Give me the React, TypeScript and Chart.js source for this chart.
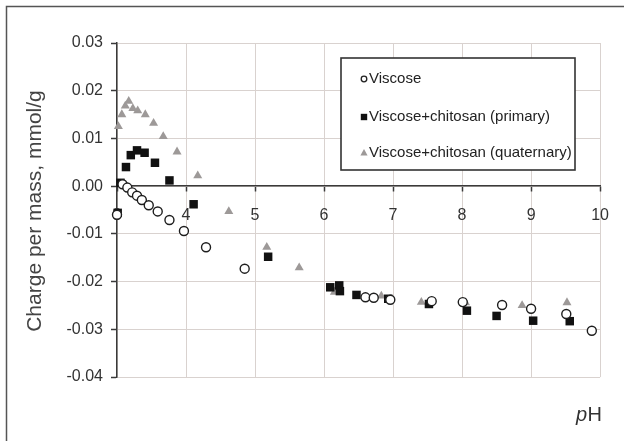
import React, { useEffect, useRef } from "react";
import { Chart, registerables } from "chart.js";

Chart.register(...registerables);

// Measured surface charge vs. pH for the three fibre samples
const viscosePH = [3.0, 3.08, 3.15, 3.22, 3.29, 3.36, 3.46, 3.59, 3.76, 3.97, 4.29, 4.85, 6.6, 6.72, 6.96, 7.56, 8.01, 8.58, 9.0, 9.51, 9.88];
const viscoseCharge = [-0.006, 0.0004, -0.0003, -0.0013, -0.002, -0.0029, -0.004, -0.0053, -0.0071, -0.0094, -0.0128, -0.0173, -0.0233, -0.0234, -0.0238, -0.0241, -0.0243, -0.0249, -0.0257, -0.0268, -0.0303];

const primaryPH = [3.01, 3.05, 3.13, 3.2, 3.29, 3.4, 3.55, 3.76, 4.11, 5.19, 6.09, 6.22, 6.23, 6.47, 6.93, 7.52, 8.07, 8.5, 9.03, 9.56];
const primaryCharge = [-0.0056, 0.0007, 0.004, 0.0065, 0.0075, 0.007, 0.0049, 0.0012, -0.0038, -0.0148, -0.0212, -0.0208, -0.022, -0.0228, -0.0236, -0.0247, -0.0261, -0.0272, -0.0282, -0.0283];

const quaternaryPH = [3.02, 3.07, 3.12, 3.17, 3.23, 3.3, 3.41, 3.53, 3.67, 3.87, 4.17, 4.62, 5.17, 5.64, 6.15, 6.83, 7.41, 8.05, 8.87, 9.52];
const quaternaryCharge = [0.0125, 0.015, 0.0168, 0.0178, 0.0163, 0.0158, 0.015, 0.0132, 0.0104, 0.0072, 0.0022, -0.0053, -0.0128, -0.0171, -0.0222, -0.023, -0.0243, -0.0244, -0.025, -0.0244];

const seriesLabels = ["Viscose", "Viscose+chitosan (primary)", "Viscose+chitosan (quaternary)"];

const xMin = 3;
const xMax = 10;
const yMin = -0.04;
const yMax = 0.03;
const yStep = 0.01;

const yTitle = "Charge per mass, mmol/g";
const xTitleItalic = "p";
const xTitleRest = "H";

const FONT = "'Liberation Sans', Arial, Helvetica, sans-serif";
const GRID = "#d9d2cf";
const AXIS = "#3a3a3a";

const toPoints = (xs: number[], ys: number[]) => xs.map((x, i) => ({ x, y: ys[i] }));

type Marker = "circle" | "rect" | "triangle";

function drawMarker(ctx: CanvasRenderingContext2D, kind: Marker, x: number, y: number, r: number, fill: string, stroke: string) {
  ctx.beginPath();
  if (kind === "circle") {
    ctx.arc(x, y, r, 0, Math.PI * 2);
    ctx.fillStyle = fill;
    ctx.fill();
    ctx.lineWidth = 1.3;
    ctx.strokeStyle = stroke;
    ctx.stroke();
  } else if (kind === "rect") {
    ctx.rect(x - r, y - r, 2 * r, 2 * r);
    ctx.fillStyle = fill;
    ctx.fill();
  } else {
    ctx.moveTo(x, y - r * 1.1);
    ctx.lineTo(x + r, y + r * 0.7);
    ctx.lineTo(x - r, y + r * 0.7);
    ctx.closePath();
    ctx.fillStyle = fill;
    ctx.fill();
  }
}

const decorations = {
  id: "decorations",
  afterDraw(chart: any) {
    const ctx: CanvasRenderingContext2D = chart.ctx;
    const area = chart.chartArea;
    ctx.save();

    // outer frame (left and top edges)
    ctx.strokeStyle = "#555";
    ctx.lineWidth = 1.5;
    ctx.beginPath();
    ctx.moveTo(6.5, chart.height);
    ctx.lineTo(6.5, 6.5);
    ctx.lineTo(chart.width, 6.5);
    ctx.stroke();

    // y-axis title
    ctx.save();
    ctx.translate(41, (area.top + area.bottom) / 2 + 1);
    ctx.rotate(-Math.PI / 2);
    ctx.font = `21px ${FONT}`;
    ctx.fillStyle = "#444";
    ctx.textAlign = "center";
    ctx.textBaseline = "alphabetic";
    ctx.fillText(yTitle, 0, 0);
    ctx.restore();

    // x-axis title "pH" with italic p
    ctx.fillStyle = "#333";
    ctx.textBaseline = "alphabetic";
    ctx.textAlign = "left";
    ctx.font = `italic 20px ${FONT}`;
    const px = 576;
    const py = 421;
    ctx.fillText(xTitleItalic, px, py);
    const w = ctx.measureText(xTitleItalic).width;
    ctx.font = `20px ${FONT}`;
    ctx.fillText(xTitleRest, px + w + 0.5, py);

    // legend box
    const bx = 341;
    const by = 58;
    const bw = 234;
    const bh = 112;
    ctx.fillStyle = "#fff";
    ctx.fillRect(bx, by, bw, bh);
    ctx.strokeStyle = "#333";
    ctx.lineWidth = 1.6;
    ctx.strokeRect(bx, by, bw, bh);

    const rows = [79, 117, 153];
    chart.data.datasets.forEach((ds: any, i: number) => {
      const cy = rows[i];
      const kind = ds.pointStyle as Marker;
      if (kind === "circle") drawMarker(ctx, kind, 364, cy, 2.8, "#fff", "#222");
      else if (kind === "rect") drawMarker(ctx, kind, 364, cy, 3.2, "#111", "#111");
      else drawMarker(ctx, kind, 364, cy, 3.6, "#9d9998", "#9d9998");
      ctx.fillStyle = "#222";
      ctx.font = `15px ${FONT}`;
      ctx.textBaseline = "middle";
      ctx.textAlign = "left";
      ctx.fillText(ds.label, 369, cy);
    });

    ctx.restore();
  },
};

export default function App() {
  const canvasRef = useRef<HTMLCanvasElement | null>(null);

  useEffect(() => {
    const canvas = canvasRef.current;
    if (!canvas) return;
    const chart = new Chart(canvas, {
      type: "scatter",
      data: {
        datasets: [
          {
            label: seriesLabels[0],
            data: toPoints(viscosePH, viscoseCharge),
            pointStyle: "circle",
            pointRadius: 4.5,
            pointBorderWidth: 1.4,
            pointBackgroundColor: "#ffffff",
            pointBorderColor: "#1e1e1e",
            clip: false,
          },
          {
            label: seriesLabels[1],
            data: toPoints(primaryPH, primaryCharge),
            pointStyle: "rect",
            pointRadius: 6,
            pointBorderWidth: 0,
            pointBackgroundColor: "#111111",
            pointBorderColor: "#111111",
            clip: false,
          },
          {
            label: seriesLabels[2],
            data: toPoints(quaternaryPH, quaternaryCharge),
            pointStyle: "triangle",
            pointRadius: 5.2,
            pointBorderWidth: 0,
            pointBackgroundColor: "#9d9998",
            pointBorderColor: "#9d9998",
            clip: false,
          },
        ],
      },
      options: {
        responsive: false,
        animation: false,
        events: [],
        layout: { padding: { left: 7, top: 43, right: 19, bottom: 64 } },
        plugins: {
          legend: { display: false },
          tooltip: { enabled: false },
        },
        scales: {
          x: {
            type: "linear",
            position: { y: 0 } as any,
            min: xMin,
            max: xMax,
            ticks: {
              stepSize: 1,
              padding: 15,
              color: "#333",
              font: { family: FONT, size: 16 },
              callback: (v: any) => String(v),
            },
            grid: {
              color: GRID,
              lineWidth: 1,
              tickColor: AXIS,
              tickLength: 5,
              tickWidth: 1.5,
            },
            border: { display: true, color: AXIS, width: 1.5 },
          },
          y: {
            type: "linear",
            min: yMin,
            max: yMax,
            ticks: {
              stepSize: yStep,
              padding: 8,
              color: "#333",
              font: { family: FONT, size: 16 },
              callback: (v: any) => Number(v).toFixed(2),
            },
            grid: {
              color: GRID,
              lineWidth: 1,
              tickColor: AXIS,
              tickLength: 6,
              tickWidth: 1.5,
            },
            border: { display: true, color: AXIS, width: 1.5 },
            afterFit: (s: any) => {
              s.width = 110;
            },
          },
        },
      },
      plugins: [decorations],
    });
    return () => chart.destroy();
  }, []);

  return (
    <div style={{ position: "fixed", left: 0, top: 0, width: 624, height: 441, background: "#fff" }}>
      <canvas ref={canvasRef} width={624} height={441} style={{ display: "block" }} />
    </div>
  );
}
